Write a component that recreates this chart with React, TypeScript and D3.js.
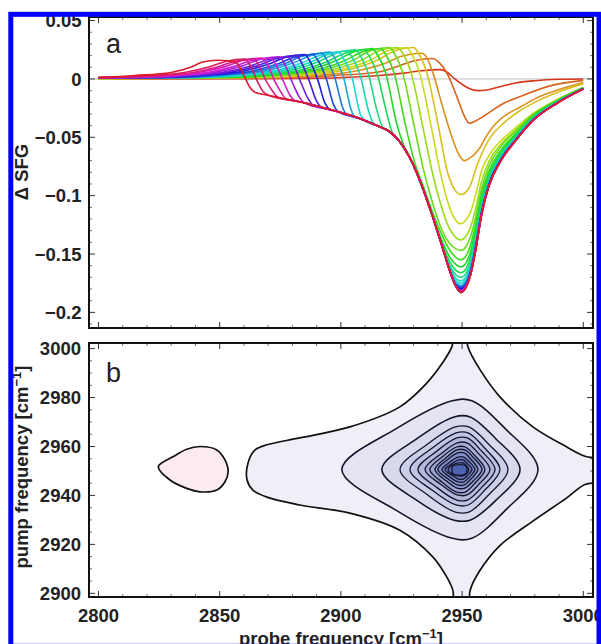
import React from 'react';
import * as d3 from 'd3';

const W = 601;
const H = 644;

// panel a: ΔSFG spectra [probe frequency, ΔSFG], one per pump frequency (high -> low)
const spectra: [number, number][][] = [
  [[2800,0],[2880,0.0004],[2901,0.0013],[2916,0.003],[2926,0.005],[2933,0.007],[2941,0.008],[2943.5,0.0062],[2947,0],[2951,-0.006],[2954,-0.009],[2957,-0.01],[2960,-0.0095],[2966,-0.0065],[2972,-0.0035],[2980,-0.0015],[2990,-0.0003],[3000,0]],
  [[2800,0],[2878,0.001],[2898,0.003],[2916,0.0062],[2923,0.0105],[2930,0.0154],[2938,0.0175],[2940,0.015],[2944,0.004],[2948,-0.016],[2951,-0.032],[2953,-0.038],[2955.5,-0.036],[2961,-0.029],[2967,-0.021],[2974,-0.015],[2987,-0.0055],[3000,-0.0012]],
  [[2800,0],[2873,0.0013],[2893,0.0035],[2908,0.0075],[2918,0.0132],[2925,0.0195],[2933.5,0.022],[2936,0.016],[2938,0.005],[2942,-0.024],[2946,-0.051],[2949,-0.066],[2951,-0.07],[2953,-0.068],[2957,-0.06],[2960,-0.049],[2964,-0.038],[2968,-0.031],[2974,-0.024],[2982,-0.015],[2990,-0.009],[3000,-0.003]],
  [[2800,0.0002],[2870,0.0016],[2890,0.0043],[2905,0.009],[2915,0.016],[2922,0.024],[2930,0.027],[2932,0.022],[2935.5,0.005],[2940,-0.038],[2944,-0.08],[2947,-0.095],[2949.5,-0.099],[2953,-0.093],[2956,-0.075],[2959,-0.06],[2962,-0.049],[2967,-0.038],[2974,-0.027],[2981,-0.019],[2990,-0.011],[3000,-0.004]],
  [[2800,0.0003],[2867,0.0016],[2887,0.0043],[2902,0.009],[2912,0.016],[2919,0.024],[2927,0.027],[2929,0.022],[2932.5,0.005],[2937,-0.038],[2941,-0.08],[2944.5,-0.108],[2947,-0.12],[2949.5,-0.124],[2951.5,-0.121],[2953.5,-0.114],[2955.5,-0.1],[2958,-0.079],[2961,-0.066],[2966,-0.053],[2972,-0.042],[2979,-0.03],[2989,-0.018],[3000,-0.0072]],
  [[2800,0.0004],[2863.5,0.0016],[2883.5,0.0043],[2898.5,0.009],[2908.5,0.016],[2915.5,0.024],[2923.5,0.027],[2925.5,0.022],[2929,0.005],[2933.5,-0.038],[2937.5,-0.078],[2941,-0.106],[2944.5,-0.127],[2947,-0.135],[2949.5,-0.138],[2951.5,-0.135],[2953.5,-0.127],[2955.5,-0.112],[2958,-0.088],[2961,-0.071],[2966,-0.056],[2972,-0.044],[2979,-0.031],[2989,-0.018],[3000,-0.0074]],
  [[2800,0.0005],[2860,0.0016],[2880,0.0043],[2895,0.009],[2905,0.016],[2912,0.024],[2920,0.027],[2922,0.022],[2925.5,0.005],[2930,-0.038],[2934,-0.077],[2937.5,-0.104],[2941,-0.126],[2944.5,-0.14],[2947,-0.145],[2949.5,-0.147],[2951.5,-0.144],[2953.5,-0.135],[2955.5,-0.119],[2958,-0.094],[2961,-0.075],[2966,-0.058],[2972,-0.045],[2979,-0.031],[2989,-0.0185],[3000,-0.0076]],
  [[2800,0.0006],[2856.5,0.0016],[2876.5,0.0042],[2891.5,0.0086],[2901.5,0.0156],[2908.5,0.023],[2916.5,0.026],[2918.5,0.021],[2922,0.005],[2926.5,-0.038],[2930.5,-0.072],[2934,-0.092],[2938,-0.115],[2942,-0.135],[2945,-0.147],[2947.5,-0.153],[2949.5,-0.155],[2951.5,-0.152],[2953.5,-0.142],[2955.5,-0.125],[2958,-0.099],[2961,-0.079],[2966,-0.061],[2972,-0.047],[2979,-0.032],[2989,-0.019],[3000,-0.0077]],
  [[2800,0.0007],[2853,0.0016],[2873,0.0042],[2888,0.0086],[2898,0.0156],[2905,0.023],[2913,0.026],[2915,0.021],[2918.5,0.005],[2923,-0.038],[2926,-0.057],[2928,-0.065],[2931,-0.078],[2934,-0.094],[2938,-0.118],[2942,-0.14],[2945,-0.153],[2947.5,-0.159],[2949.5,-0.161],[2951.5,-0.158],[2953.5,-0.148],[2955.5,-0.13],[2958,-0.103],[2961,-0.082],[2966,-0.063],[2972,-0.048],[2979,-0.033],[2989,-0.0193],[3000,-0.0078]],
  [[2800,0.0008],[2849.5,0.0015],[2869.5,0.004],[2884.5,0.0083],[2894.5,0.015],[2901.5,0.022],[2909.5,0.025],[2911.5,0.02],[2915,0.004],[2919,-0.03],[2921,-0.045],[2924,-0.053],[2928,-0.066],[2931,-0.079],[2934,-0.095],[2938,-0.119],[2942,-0.143],[2945,-0.157],[2947.5,-0.164],[2949.5,-0.166],[2951.5,-0.163],[2953.5,-0.152],[2955.5,-0.134],[2958,-0.106],[2961,-0.084],[2966,-0.064],[2972,-0.049],[2979,-0.0335],[2989,-0.0196],[3000,-0.0079]],
  [[2800,0.0008],[2846,0.0015],[2866,0.004],[2881,0.0083],[2891,0.015],[2898,0.022],[2906,0.025],[2908,0.02],[2911.5,0.003],[2915,-0.028],[2917.5,-0.042],[2920,-0.045],[2924,-0.053],[2928,-0.066],[2931,-0.079],[2934,-0.095],[2938,-0.119],[2942,-0.144],[2945,-0.16],[2947.5,-0.168],[2949.5,-0.17],[2951.5,-0.167],[2953.5,-0.156],[2955.5,-0.137],[2958,-0.109],[2961,-0.086],[2966,-0.066],[2972,-0.05],[2979,-0.034],[2989,-0.0199],[3000,-0.008]],
  [[2800,0.0009],[2842.5,0.0014],[2862.5,0.0038],[2877.5,0.008],[2887.5,0.0144],[2894.5,0.021],[2902.5,0.024],[2904.5,0.019],[2908,0.003],[2911.5,-0.028],[2913.5,-0.038],[2916,-0.041],[2920,-0.045],[2924,-0.053],[2928,-0.066],[2931,-0.079],[2934,-0.095],[2938,-0.119],[2942,-0.145],[2945,-0.162],[2947.5,-0.171],[2949.5,-0.173],[2951.5,-0.17],[2953.5,-0.159],[2955.5,-0.14],[2958,-0.111],[2961,-0.088],[2966,-0.067],[2972,-0.051],[2979,-0.0345],[2989,-0.0201],[3000,-0.0081]],
  [[2800,0.0009],[2839,0.0014],[2859,0.0037],[2874,0.0076],[2884,0.0138],[2891,0.02],[2899,0.023],[2901,0.018],[2904.5,0.002],[2908,-0.03],[2910,-0.036],[2916,-0.041],[2920,-0.045],[2924,-0.053],[2928,-0.066],[2931,-0.079],[2934,-0.095],[2938,-0.119],[2942,-0.145],[2945,-0.163],[2947.5,-0.173],[2949.5,-0.175],[2951.5,-0.172],[2953.5,-0.161],[2955.5,-0.142],[2958,-0.112],[2961,-0.089],[2966,-0.068],[2972,-0.0515],[2979,-0.035],[2989,-0.0203],[3000,-0.0082]],
  [[2800,0.001],[2835.5,0.0014],[2855.5,0.0037],[2870.5,0.0076],[2880.5,0.0138],[2887.5,0.02],[2895.5,0.023],[2897.5,0.018],[2901,0.002],[2904.5,-0.028],[2906,-0.033],[2908,-0.034],[2916,-0.041],[2920,-0.045],[2924,-0.053],[2928,-0.066],[2931,-0.079],[2934,-0.095],[2938,-0.119],[2942,-0.145],[2945,-0.164],[2947.5,-0.175],[2949.5,-0.177],[2951.5,-0.174],[2953.5,-0.163],[2955.5,-0.143],[2958,-0.113],[2961,-0.09],[2966,-0.068],[2972,-0.052],[2979,-0.0352],[2989,-0.0205],[3000,-0.0083]],
  [[2800,0.001],[2832,0.0013],[2852,0.0035],[2867,0.0073],[2877,0.0132],[2884,0.0194],[2892,0.022],[2894,0.017],[2897.5,0.001],[2901,-0.026],[2902.5,-0.0305],[2908,-0.034],[2916,-0.041],[2920,-0.045],[2924,-0.053],[2928,-0.066],[2931,-0.079],[2934,-0.095],[2938,-0.119],[2942,-0.145],[2945,-0.164],[2947.5,-0.176],[2949.5,-0.178],[2951.5,-0.175],[2953.5,-0.164],[2955.5,-0.144],[2958,-0.114],[2961,-0.09],[2966,-0.069],[2972,-0.052],[2979,-0.0355],[2989,-0.0206],[3000,-0.0083]],
  [[2800,0.001],[2828.5,0.0013],[2848.5,0.0034],[2863.5,0.0069],[2873.5,0.0126],[2880.5,0.0185],[2888.5,0.021],[2890.5,0.016],[2894,0],[2897,-0.022],[2899,-0.0283],[2908,-0.034],[2916,-0.041],[2920,-0.045],[2924,-0.053],[2928,-0.066],[2931,-0.079],[2934,-0.095],[2938,-0.119],[2942,-0.145],[2945,-0.165],[2947.5,-0.177],[2949.5,-0.179],[2951.5,-0.176],[2953.5,-0.165],[2955.5,-0.145],[2958,-0.115],[2961,-0.091],[2966,-0.069],[2972,-0.0525],[2979,-0.0357],[2989,-0.0207],[3000,-0.0084]],
  [[2800,0.001],[2825,0.0013],[2845,0.0034],[2860,0.0069],[2870,0.0126],[2877,0.0185],[2885,0.021],[2887,0.016],[2890.5,-0.001],[2893.5,-0.021],[2895.5,-0.0262],[2897,-0.027],[2908,-0.034],[2916,-0.041],[2920,-0.045],[2924,-0.053],[2928,-0.066],[2931,-0.079],[2934,-0.095],[2938,-0.119],[2942,-0.145],[2945,-0.165],[2947.5,-0.177],[2949.5,-0.18],[2951.5,-0.177],[2953.5,-0.166],[2955.5,-0.146],[2958,-0.115],[2961,-0.091],[2966,-0.0695],[2972,-0.0527],[2979,-0.0358],[2989,-0.0208],[3000,-0.0084]],
  [[2800,0.0011],[2821.5,0.0012],[2841.5,0.0032],[2856.5,0.0066],[2866.5,0.012],[2873.5,0.0176],[2881.5,0.02],[2883.5,0.015],[2887,-0.002],[2890,-0.019],[2892,-0.0243],[2897,-0.027],[2908,-0.034],[2916,-0.041],[2920,-0.045],[2924,-0.053],[2928,-0.066],[2931,-0.079],[2934,-0.095],[2938,-0.119],[2942,-0.145],[2945,-0.165],[2947.5,-0.178],[2949.5,-0.181],[2951.5,-0.178],[2953.5,-0.167],[2955.5,-0.147],[2958,-0.116],[2961,-0.0915],[2966,-0.0697],[2972,-0.0528],[2979,-0.0359],[2989,-0.0209],[3000,-0.0085]],
  [[2800,0.0011],[2818,0.0012],[2838,0.003],[2853,0.0063],[2863,0.0114],[2870,0.0167],[2878,0.019],[2880,0.014],[2883.5,-0.003],[2886.5,-0.017],[2888.5,-0.0224],[2897,-0.027],[2908,-0.034],[2916,-0.041],[2920,-0.045],[2924,-0.053],[2928,-0.066],[2931,-0.079],[2934,-0.095],[2938,-0.119],[2942,-0.145],[2945,-0.165],[2947.5,-0.178],[2949.5,-0.181],[2951.5,-0.178],[2953.5,-0.167],[2955.5,-0.147],[2958,-0.116],[2961,-0.0915],[2966,-0.0697],[2972,-0.0528],[2979,-0.0359],[2989,-0.0209],[3000,-0.0085]],
  [[2800,0.0011],[2814.5,0.0012],[2834.5,0.003],[2849.5,0.0063],[2859.5,0.0114],[2866.5,0.0167],[2874.5,0.019],[2876.5,0.014],[2880,-0.003],[2883,-0.016],[2885,-0.0206],[2897,-0.027],[2908,-0.034],[2916,-0.041],[2920,-0.045],[2924,-0.053],[2928,-0.066],[2931,-0.079],[2934,-0.095],[2938,-0.119],[2942,-0.145],[2945,-0.165],[2947.5,-0.178],[2949.5,-0.182],[2951.5,-0.178],[2953.5,-0.167],[2955.5,-0.147],[2958,-0.116],[2961,-0.092],[2966,-0.07],[2972,-0.053],[2979,-0.036],[2989,-0.021],[3000,-0.0085]],
  [[2800,0.0011],[2831,0.0029],[2846,0.006],[2856,0.0108],[2863,0.0158],[2871,0.018],[2873,0.013],[2876.5,-0.003],[2879,-0.014],[2881,-0.0187],[2883,-0.0195],[2897,-0.027],[2908,-0.034],[2916,-0.041],[2920,-0.045],[2924,-0.053],[2928,-0.066],[2931,-0.079],[2934,-0.095],[2938,-0.119],[2942,-0.145],[2945,-0.165],[2947.5,-0.178],[2949.5,-0.182],[2951.5,-0.178],[2953.5,-0.167],[2955.5,-0.147],[2958,-0.116],[2961,-0.092],[2966,-0.07],[2972,-0.053],[2979,-0.036],[2989,-0.021],[3000,-0.0085]],
  [[2800,0.0012],[2827.5,0.0029],[2842.5,0.006],[2852.5,0.0108],[2859.5,0.0158],[2867.5,0.018],[2869.5,0.013],[2873,-0.003],[2875.5,-0.012],[2877.5,-0.0172],[2883,-0.0195],[2897,-0.027],[2908,-0.034],[2916,-0.041],[2920,-0.045],[2924,-0.053],[2928,-0.066],[2931,-0.079],[2934,-0.095],[2938,-0.119],[2942,-0.145],[2945,-0.165],[2947.5,-0.178],[2949.5,-0.182],[2951.5,-0.178],[2953.5,-0.167],[2955.5,-0.147],[2958,-0.116],[2961,-0.092],[2966,-0.07],[2972,-0.053],[2979,-0.036],[2989,-0.021],[3000,-0.0085]],
  [[2800,0.0012],[2824,0.0027],[2839,0.0056],[2849,0.0102],[2856,0.015],[2864,0.017],[2866,0.012],[2869.5,-0.003],[2872,-0.011],[2874,-0.0157],[2883,-0.0195],[2897,-0.027],[2908,-0.034],[2916,-0.041],[2920,-0.045],[2924,-0.053],[2928,-0.066],[2931,-0.079],[2934,-0.095],[2938,-0.119],[2942,-0.145],[2945,-0.165],[2947.5,-0.178],[2949.5,-0.183],[2951.5,-0.179],[2953.5,-0.168],[2955.5,-0.148],[2958,-0.117],[2961,-0.092],[2966,-0.07],[2972,-0.053],[2979,-0.036],[2989,-0.021],[3000,-0.0085]],
  [[2800,0.0012],[2820.5,0.0027],[2835.5,0.0056],[2845.5,0.0102],[2852.5,0.015],[2860.5,0.017],[2862.5,0.012],[2866,-0.004],[2868,-0.011],[2870.5,-0.0142],[2883,-0.0195],[2897,-0.027],[2908,-0.034],[2916,-0.041],[2920,-0.045],[2924,-0.053],[2928,-0.066],[2931,-0.079],[2934,-0.095],[2938,-0.119],[2942,-0.145],[2945,-0.165],[2947.5,-0.178],[2949.5,-0.183],[2951.5,-0.179],[2953.5,-0.168],[2955.5,-0.148],[2958,-0.117],[2961,-0.092],[2966,-0.07],[2972,-0.053],[2979,-0.036],[2989,-0.021],[3000,-0.0085]],
  [[2800,0.0013],[2815,0.003],[2830,0.0056],[2838,0.01],[2843,0.0145],[2849,0.016],[2854,0.0155],[2857,0.0137],[2860,0.003],[2862.5,-0.0073],[2864.5,-0.0113],[2870,-0.014],[2883,-0.0195],[2897,-0.027],[2908,-0.034],[2916,-0.041],[2920,-0.045],[2924,-0.053],[2928,-0.066],[2931,-0.079],[2934,-0.095],[2938,-0.119],[2942,-0.145],[2945,-0.165],[2947.5,-0.178],[2949.5,-0.183],[2951.5,-0.179],[2953.5,-0.168],[2955.5,-0.148],[2958,-0.117],[2961,-0.092],[2966,-0.07],[2972,-0.053],[2979,-0.036],[2989,-0.021],[3000,-0.0085]],
];

const probeTicks = [2800, 2850, 2900, 2950, 3000];
const sfgTicks = [0.05, 0, -0.05, -0.1, -0.15, -0.2];
const pumpTicks = [2900, 2920, 2940, 2960, 2980, 3000];

// panel b: contour lines [probe, pump]
const outerContour: [number, number][] = [
  [2861.3,2946.3],[2861.7,2953.3],[2864.6,2958.6],[2869.5,2960.7],[2883,2963.5],[2903.7,2968],[2924.3,2976.2],
  [2935.5,2986],[2942,2994.3],[2945.8,3000.8],[2947,3007],[2951.5,3007],[2952.4,3000.8],[2957.4,2991.4],
  [2965.6,2980.3],[2979.2,2968],[2993.2,2959.8],[3000.7,2956],[3010,2954],[3010,2946],[3000.7,2944.5],
  [2993.2,2939],[2979.2,2929.5],[2965.6,2919.5],[2957.4,2909.4],[2953.3,2901.2],[2952.5,2894],[2947,2894],
  [2946.2,2901.2],[2943.7,2906.6],[2938,2914.8],[2924.3,2925.8],[2903.7,2932.8],[2883.1,2936.1],
  [2869.5,2939.3],[2863.7,2942.2],
];

const negativeContour: [number, number][] = [
  [2824.7,2951.8],[2830.9,2955.9],[2836.4,2958.9],[2841.9,2960],[2848.8,2958.6],[2852.2,2954.5],
  [2853.5,2949.7],[2852.2,2945.6],[2848.8,2942.2],[2841.9,2941.5],[2836.4,2942.9],[2829.5,2946.3],
];

const innerContours: [number, number][][] = [
  [[2900.4,2950.6],[2923.2,2967.5],[2946,2978.7],[2954,2978.7],[2967.6,2967.5],[2981.3,2950.6],[2967.6,2933.7],[2954,2922.5],[2946,2922.5],[2923.2,2933.7]],
  [[2916.9,2950.6],[2931.8,2963.5],[2946.7,2972.1],[2953.3,2972.1],[2963.6,2963.5],[2973.9,2950.6],[2963.6,2937.7],[2953.3,2929.9],[2946.7,2929.9],[2931.8,2937.7]],
  [[2924.4,2950.6],[2935.8,2961],[2947.2,2968],[2952.8,2968],[2960.9,2961],[2968.9,2950.6],[2960.9,2940.2],[2952.8,2933.2],[2947.2,2933.2],[2935.8,2940.2]],
  [[2928.5,2950.6],[2938,2959.6],[2947.5,2965.6],[2952.5,2965.6],[2959.1,2959.6],[2965.6,2950.6],[2959.1,2941.9],[2952.5,2936.1],[2947.5,2936.1],[2938,2941.9]],
  [[2931.8,2950.6],[2939.8,2958.3],[2947.8,2963.5],[2952.2,2963.5],[2957.9,2958.3],[2963.6,2950.6],[2957.9,2943.1],[2952.2,2938.1],[2947.8,2938.1],[2939.8,2943.1]],
  [[2934.7,2950.6],[2941.4,2957.1],[2948,2961.5],[2952,2961.5],[2956.8,2957.1],[2961.5,2950.6],[2956.8,2944.4],[2952,2940.2],[2948,2940.2],[2941.4,2944.4]],
  [[2936.7,2950.6],[2942.2,2956.1],[2947.7,2959.8],[2951.3,2959.8],[2955.4,2956.1],[2959.4,2950.6],[2955.4,2945.1],[2951.3,2941.4],[2947.7,2941.4],[2942.2,2945.1]],
  [[2938.8,2950.6],[2943.4,2955.4],[2947.9,2958.6],[2951.1,2958.6],[2954.7,2955.4],[2958.2,2950.6],[2954.7,2946],[2951.1,2943],[2947.9,2943],[2943.4,2946]],
  [[2940,2950.6],[2944.1,2954.7],[2948.1,2957.4],[2950.9,2957.4],[2953.7,2954.7],[2956.5,2950.6],[2953.7,2946.8],[2950.9,2944.3],[2948.1,2944.3],[2944.1,2946.8]],
  [[2941.7,2950.6],[2945,2953.7],[2948.3,2955.7],[2950.7,2955.7],[2953,2953.7],[2955.3,2950.6],[2953,2947.5],[2950.7,2945.5],[2948.3,2945.5],[2945,2947.5]],
  [[2942.9,2950.6],[2945.7,2952.9],[2948.5,2954.5],[2950.5,2954.5],[2952.3,2952.9],[2954.1,2950.6],[2952.3,2948.3],[2950.5,2946.7],[2948.5,2946.7],[2945.7,2948.3]],
  [[2944.2,2950.6],[2946,2952.4],[2948.6,2953.3],[2950.3,2953.3],[2951.6,2952.4],[2952.8,2950.6],[2951.6,2948.8],[2950.3,2948],[2948.6,2948],[2946,2948.8]],
  [[2946.2,2952],[2951.6,2952],[2951.6,2948.9],[2946.2,2948.9]],
];

const FONT = "'Liberation Sans', Arial, Helvetica, sans-serif";

const A = { left: 89, right: 593, top: 17, bottom: 328 };
const B = { left: 89, right: 593, top: 343, bottom: 597 };

const probe = d3.scaleLinear().domain([2796.1, 3004]).range([A.left, A.right]);
const sfg = d3.scaleLinear().domain([-0.2134, 0.0531]).range([A.bottom, A.top]);
const pump = d3.scaleLinear().domain([2898.5, 3002.3]).range([B.bottom, B.top]);

const spectrumLine = d3.line<[number, number]>()
  .x(d => probe(d[0]))
  .y(d => sfg(d[1]))
  .curve(d3.curveMonotoneX);

const ringLine = d3.line<[number, number]>()
  .x(d => probe(d[0]))
  .y(d => pump(d[1]))
  .curve(d3.curveCatmullRomClosed.alpha(0.5));

const fmt = (v: number) => String(v).replace('-', '\u2212');

function Ticks({ frame, xs, xMinor, ys, yMinor, yScale }: any) {
  const out: any[] = [];
  const add = (x1: number, y1: number, x2: number, y2: number, major: boolean, k: string) =>
    out.push(<line key={k} x1={x1} y1={y1} x2={x2} y2={y2} stroke="#333" strokeWidth={major ? 1 : 0.7} />);
  xMinor.forEach((v: number) => {
    const major = xs.includes(v);
    const len = major ? 6 : 3;
    const px = probe(v);
    add(px, frame.bottom, px, frame.bottom - len, major, `xb${v}`);
    add(px, frame.top, px, frame.top + len, major, `xt${v}`);
  });
  yMinor.forEach((v: number) => {
    const major = ys.some((t: number) => Math.abs(t - v) < 1e-9);
    const len = major ? 6 : 3;
    const py = yScale(v);
    add(frame.left, py, frame.left + len, py, major, `yl${v}`);
    add(frame.right, py, frame.right - len, py, major, `yr${v}`);
  });
  return <g>{out}</g>;
}

export default function App() {
  const hueOf = (i: number) => d3.hsl(8 + i * (347 / (spectra.length - 1)), 0.78, 0.48).formatHex();
  const fillOf = d3.scaleLinear<string>()
    .domain([0, innerContours.length])
    .range(['#f0eff8', '#4f63b3'])
    .interpolate(d3.interpolateRgb);

  const probeMinor = d3.range(2800, 3001, 10);
  const sfgMinor = d3.range(-21, 6).map(v => v / 100);
  const pumpMinor = d3.range(2900, 3001, 5);

  return (
    <div style={{ position: 'absolute', left: 0, top: 0 }}>
      <svg width={W} height={H} style={{ display: 'block', background: '#fff' }}>
        <defs>
          <clipPath id="clipA"><rect x={A.left} y={A.top} width={A.right - A.left} height={A.bottom - A.top} /></clipPath>
          <clipPath id="clipB"><rect x={B.left} y={B.top} width={B.right - B.left} height={B.bottom - B.top} /></clipPath>
        </defs>
        <rect width={W} height={H} fill="#fff" />

        {/* panel a */}
        <g clipPath="url(#clipA)">
          <line x1={A.left} x2={A.right} y1={sfg(0)} y2={sfg(0)} stroke="#b8b8b8" strokeWidth={0.9} />
          {spectra.map((s, i) => (
            <path key={i} d={spectrumLine(s) || ''} fill="none" stroke={hueOf(i)} strokeWidth={1.6} strokeLinejoin="round" />
          ))}
        </g>
        <Ticks frame={A} xs={probeTicks} xMinor={probeMinor} ys={sfgTicks} yMinor={sfgMinor} yScale={sfg} />
        <rect x={A.left} y={A.top} width={A.right - A.left} height={A.bottom - A.top} fill="none" stroke="#111" strokeWidth={2} />
        {sfgTicks.map(t => (
          <text key={t} x={81.5} y={sfg(t)} dy="0.36em" textAnchor="end" fontFamily={FONT} fontWeight="bold" fontSize={18.5} fill="#222">{fmt(t)}</text>
        ))}
        <text x={106} y={53} fontFamily={FONT} fontSize={27} fill="#222">a</text>
        <text transform="translate(27.5,172) rotate(-90)" textAnchor="middle" fontFamily={FONT} fontWeight="bold" fontSize={18.5} fill="#222">Δ SFG</text>

        {/* panel b */}
        <g clipPath="url(#clipB)">
          <path d={ringLine(outerContour) || ''} fill={fillOf(0)} stroke="#111" strokeWidth={1.7} />
          <path d={ringLine(negativeContour) || ''} fill="#fbeaee" stroke="#111" strokeWidth={1.7} />
          {innerContours.map((r, i) => (
            <path key={i} d={ringLine(r) || ''} fill={fillOf(i + 1)} stroke="#15152a" strokeWidth={i < 2 ? 1.6 : 1.3} />
          ))}
        </g>
        <Ticks frame={B} xs={probeTicks} xMinor={probeMinor} ys={pumpTicks} yMinor={pumpMinor} yScale={pump} />
        <rect x={B.left} y={B.top} width={B.right - B.left} height={B.bottom - B.top} fill="none" stroke="#111" strokeWidth={2} />
        {pumpTicks.map(t => (
          <text key={t} x={81} y={pump(t)} dy="0.36em" textAnchor="end" fontFamily={FONT} fontWeight="bold" fontSize={18.5} fill="#222">{t}</text>
        ))}
        {probeTicks.map(t => (
          <text key={t} x={probe(t)} y={622} textAnchor="middle" fontFamily={FONT} fontWeight="bold" fontSize={18.5} fill="#222">{t}</text>
        ))}
        <text x={106} y={382} fontFamily={FONT} fontSize={27} fill="#222">b</text>
        <text transform="translate(27.5,467) rotate(-90)" textAnchor="middle" fontFamily={FONT} fontWeight="bold" fontSize={18.5} fill="#222">
          <tspan>pump frequency [cm</tspan><tspan dy={-7} fontSize={13}>{'\u22121'}</tspan><tspan dy={7}>]</tspan>
        </text>
        <text x={(B.left + B.right) / 2} y={645} textAnchor="middle" fontFamily={FONT} fontWeight="bold" fontSize={18.5} fill="#222">
          <tspan>probe frequency [cm</tspan><tspan dy={-7} fontSize={13}>{'\u22121'}</tspan><tspan dy={7}>]</tspan>
        </text>

        {/* blue border */}
        <rect x={10.8} y={14.3} width={588.2} height={632} fill="none" stroke="#0000ff" strokeWidth={5} />
      </svg>
    </div>
  );
}
